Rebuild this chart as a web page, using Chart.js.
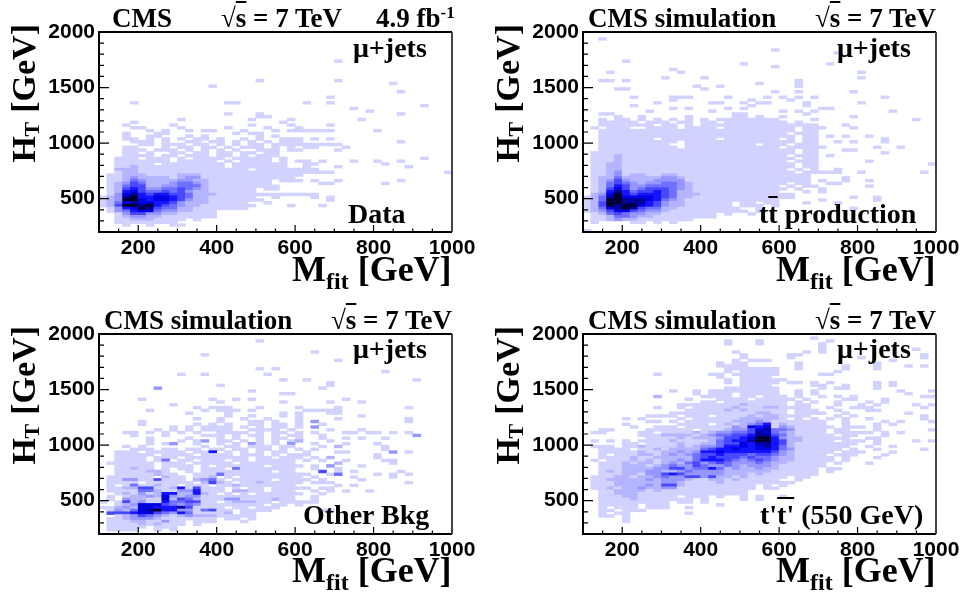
<!DOCTYPE html>
<html>
<head>
<meta charset="utf-8">
<script src="https://cdn.jsdelivr.net/npm/chart.js@4"></script>
<style>
body { margin: 0; background: #fff; width: 963px; height: 595px; overflow: hidden; position: relative; }
canvas { position: absolute; }
.t { position: absolute; font-family: "Liberation Serif", serif; font-weight: bold; color: #000; white-space: nowrap; line-height: 1; }
.head { font-size: 27px; }
.tag { font-size: 28px; }
.axt { font-size: 36px; }
.axt sub { font-size: 24px; vertical-align: -8px; line-height: 0; }
.yt { font-size: 34px; writing-mode: vertical-rl; transform: rotate(180deg); }
.yt sub { font-size: 22px; vertical-align: baseline; position: relative; left: -8px; }
.ov { text-decoration: overline; text-decoration-thickness: 2px; }
sup { font-size: 17px; line-height: 0; vertical-align: 9px; }
</style>
</head>
<body>
<canvas id="dataChart" width="481" height="297" style="left:0;top:0"></canvas>
<canvas id="ttbarChart" width="481" height="297" style="left:484px;top:0"></canvas>
<canvas id="otherChart" width="481" height="297" style="left:0;top:302px"></canvas>
<canvas id="signalChart" width="481" height="297" style="left:484px;top:302px"></canvas>

<div class="t head" style="left:112px;top:5px">CMS</div>
<div class="t head" style="left:221px;top:5px">√<span class="ov">s</span> = 7 TeV</div>
<div class="t head" style="left:376px;top:5px">4.9 fb<sup>-1</sup></div>
<div class="t head" style="left:588px;top:5px">CMS simulation</div>
<div class="t head" style="left:815px;top:5px">√<span class="ov">s</span> = 7 TeV</div>
<div class="t head" style="left:104px;top:307px">CMS simulation</div>
<div class="t head" style="left:331px;top:307px">√<span class="ov">s</span> = 7 TeV</div>
<div class="t head" style="left:588px;top:307px">CMS simulation</div>
<div class="t head" style="left:815px;top:307px">√<span class="ov">s</span> = 7 TeV</div>

<div class="t tag" style="left:353px;top:34px">μ+jets</div>
<div class="t tag" style="left:837px;top:34px">μ+jets</div>
<div class="t tag" style="left:353px;top:335px">μ+jets</div>
<div class="t tag" style="left:837px;top:335px">μ+jets</div>
<div class="t tag" style="left:348px;top:200px">Data</div>
<div class="t tag" style="left:759px;top:200px">t<span class="ov">t</span> production</div>
<div class="t tag" style="left:303px;top:501px">Other Bkg</div>
<div class="t tag" style="left:760px;top:501px">t'<span class="ov">t'</span> (550 GeV)</div>

<div class="t axt" style="left:292px;top:251px">M<sub>fit</sub> [GeV]</div>
<div class="t axt" style="left:776px;top:251px">M<sub>fit</sub> [GeV]</div>
<div class="t axt" style="left:292px;top:552px">M<sub>fit</sub> [GeV]</div>
<div class="t axt" style="left:776px;top:552px">M<sub>fit</sub> [GeV]</div>
<div class="t axt yt" style="left:7px;top:24px">H<sub>T</sub> [GeV]</div>
<div class="t axt yt" style="left:491px;top:24px">H<sub>T</sub> [GeV]</div>
<div class="t axt yt" style="left:7px;top:326px">H<sub>T</sub> [GeV]</div>
<div class="t axt yt" style="left:491px;top:326px">H<sub>T</sub> [GeV]</div>

<script>
// histogram binning
const xStart = 100, xEnd = 1000, xBin = 20;
const yStart = 200, yEnd = 2000, yBin = 25;
const xTickLabels = [200, 400, 600, 800, 1000];
const yTickLabels = [500, 1000, 1500, 2000];

// bin contents per HT row, top row first, one char per Mfit bin (. = empty, 1-9 = colour level)
const dataRows = [
"","","","","","","","","","",
"..... ..... ..... ..... ..... ..... 1",
"","","","","","",
"..... ..... ..... ..... 1.... ..... 1",
"..... ..... ..... ..... ..... ..... ..... ..1",
"..... ..... ....1",
"",
"..... ..... ..... ..... ..... ..... ..... ...1",
"",
"..... ..... ..... ..... ..... ....1",
"",
"....1 ..... ..... .11.. ..... .1..1",
"..... ..... ..... ..... ..... ..... ..... ..... .1",
"..... ..... ..... ..... ..... ..... ..1",
"..... ..... ..... ..... ..... ..... ....1",
"..... ..... ..... .1... 1.... ..... ..... ...1",
"..... ..... ..... ..... 11",
"..... ..... 1.... ....1 ....1 ..... ...1",
"....1 ..... ..... ..... ...1",
"...1. ....1 ..... ....1 ....1 ....1",
"....1 1.... 1.... .1... .1... 1",
"..... .1.1. .1.11 ...1. ..1.1 11111 ..... 1",
"...1. ..11. ..... ..1.1 1",
"...1. .11.. .1.1. ..... 1.1",
"...11 .1.1. 1.11. 1..1. 1..11 1.1.1",
"....1 11.1. .11.1 1.1.1 .1.11 1.... ..... ...1",
"..... 11.11 1.11. 1.1.1 1.111 11111 1",
"...11 ...1. 11.11 .1.11 1.1.1 .11.. .1",
"...11 1.111 .1.1. 1.1.. 111.1 1.... 1",
"...11 .1..1 1.11. 11.11 .11",
"...11 11.11 .111. 11.1. 111",
"..111 .111. 1.111 1.111 11.1. ..... ..... ..... .1",
"..111 1111. 11111 .1.11 11.1. 11.1. ..1.. 1..1.",
"..111 11.11 11111 1.111 1111. .11.. ..... .1",
"..112 11111 11111 1.111 1111. .1... 1.... ....1",
"..222 11111 11111 1111. 11111 111",
"..122 11111 11111 11111 11111 11111 ..... ..... ....1",
".1122 21111 22211 11111 11111 1",
".1123 22221 23311 11111 11111",
".1124 32222 33221 11111 11.11 1.1.. 1.... ...1.",
".1235 42223 44321 11111 11... ...11 ..... .1",
".1245 52233 44421 11111 111",
".1256 53344 54321 11111 .11",
".1267 54454 53221 11111",
".1378 65665 54222 11111 11111 111",
"12389 66776 54221 11111 ..1.. ..1.1",
"12399 76776 53221 11111 1.... ....1",
"12478 77665 32221 1111. .1",
"12599 89654 32211 11111 ....1 ...1",
".1367 98544 22111 1111",
".1346 77433 22111",
"..135 53322 11111",
"..123 32211 11111",
"..112 22111 1.1",
"..111 11111",
"...1. .1..1 1",
"",""
];

const ttbarRows = [
"","",
"..1",
"","","",
"..... ..... ..... ..... ....1",
"..... ..... ..... ..... ..... ..... ..1",
"","",
"..... 1",
"..... ..... ..... ..... 1.... ..... .1",
"..... ..... ..... ..... ....1",
"..... ..... .1",
"...1. ..... ..1.. ..... ..... ..... ..... 1",
"",
"..... ..... 1.... 1.... ..... ..... ..... 1",
"..11. 1.... ..... ..... ..... ..1",
"..... ..... ..... ..... ..1.. ..1",
"..... ..... ....1 ..1.. ..... ..1",
"....1 1.... ..... 1",
"..... ..... ..... ..... ....1 ..1.. ....1",
"",
"..... .1... .111. ...1. ...1. 1.1.1 ..... ...1.",
"..... ..... .1... ..... .1... .1",
"..... ....1 ..... .11.. 1.11. ...1. ..... 1",
"..... .1... ..... ..... .1... ...1",
"..... ..... .1.1. ...1. 1.... ..... 11",
"..... ...1. ..... .1... ..... 1.1.1 ..... ....1",
"..11. ..... ..... ....1 1.... ...1",
"....1 ..1.. ...1. ....1 1.1.. 1.... ....1",
"..1.1 1.1.1 .1.1. 1.111 11111 ....1 ..... ..... ..1",
"..111 11.11 1.11. 11.11 11111 1.1",
"..111 1111. 11.1. 11111 11111 11111 ...1",
".1.11 1..11 11.11 11.11 11111 11.11 1...1",
"..111 11111 11111 11111 11111 11.11",
"..111 11111 11111 11111 11111 1.111",
"..111 11111 11111 11111 11111 11.11 .1.1. .1",
"..111 1111. 11111 11.11 11111 .1.11 ..... ...1",
"..111 11111 11.11 11111 11111 11.11 ..1.1 ...1",
"..111 11111 1..11 11111 11.11 1.111",
"..111 11111 11.11 11111 11111 .1111 1.... ..1.. 1",
"..111 11111 11111 11111 11111 11.11 ...11",
".1111 11111 11111 11111 11111 11.11 ..... ...1",
".1112 11111 11111 11111 11111 1.111 .1",
".1112 11111 11111 11111 11111 11.11",
".1112 11111 11111 11111 11111 1.111 ..... .1",
".1122 11111 11111 11111 11111 11.11 ..... ..... ....1",
".1122 11111 11111 11111 11111 11.11",
".1122 11111 11111 11111 11111 1.1.1 ..1",
".1123 11111 11111 11111 11111 11.11 111.. 1.... ...1",
".1123 12211 22111 11111 11111 1111",
".1224 22222 33211 11111 11111 1111. ...1",
".1235 32223 33311 11111 11111 1111. 1..1. .1",
".1245 43233 44321 11111 11111 1.11. .11",
".1246 53344 44321 11111 11111 .1.11 ..... .1",
".1257 53455 54321 11111 11111 1.1.. 1",
".1268 64556 54221 11111 11111 ...1. 1",
".2379 65666 54222 11111 11111 11",
"12489 77776 54221 11111 11111 11... ....1 ..1",
"12499 88876 43211 11111 11111 ..... 1.... ..1",
"12599 88865 32211 1111. 11.11 ...1. ..1",
"12598 99765 32211 1111. 111.1",
"12478 98544 22111 11111 ..1.. ..... ....1",
"12357 75433 21111 11111 1.1",
".1245 43322 11111 11.1. .1",
".1124 43221 11111 11",
".1123 22111 1111",
".1... .11.1 .1",
"",
"",
"1"
];

const otherRows = [
"","",
"..... ..... ..... ..... 1",
"","","",
"..... ..... ..... ..... ..... ..1",
"..... ..... ...1",
"",
"..... ..... ..... ..... ..... ..... 1",
"","",
"..... ..... ..... ..... 1.1",
"..... ..... ..... ..... ..... ..... ..... .1",
"..... ..... 1..1. ..... .1",
"",
"..... ..... ..... ..... ...1. .1... ..... ..... 1",
"..... ..... ..... ..... ..... ....1",
"..... ..... ..... 1.... ..... ....1",
"..... ..3.. ..... ..... ..... ...1",
"..... ..... ..... ....1",
"..... ..... ..... ..... ...11",
"",
"..... 1.... ....1 ..1.1 ..... ..... .1",
"..... ..... ..... 1.... ...1. ....1 ...1",
"..... ....1",
"..... ..... ..1.1 11... 1.... 1.... 1.... ....1",
"..... .1... ...1. 111.1 ..... .1111 1",
"..... ..... .1... .1... ...1. 1...1 1",
"..... ..... ..... .1..1 ...1. 1.... ...1",
"..... ..... ..1.. 1..1. .1... 1.... 1.... ....1",
"..... 1.... ..... 1...1 1.1.. 1.3.. ..... ....1",
"..... 1.... ..1.1 .1..1 1.11. 1..1.",
"..... ....1 .1.11 11.1. 1.11. 1.3..",
"..... ..1.1 .1.11 11..1 111.1 ....1 ...1",
"...11 .1.1. 1.1.. 1111. 1.11. 1.1.. .11.1 1.1.1",
"....1 ...1. ...11 1.1.1 1.1.1 1..1. ..... ..... 3",
"..... .1... .1... 1.1.. 1.11. 1..1. .1.1. .1",
"..... .1... 1.13. 11.1. 1.1.1 2...1",
"..... .1.13 ..1.. 1.1.3 1.1.3 ..1.. .1... 1",
"...1. 1.... ...1. .11.1 11.11 ...1. 2.... .1",
"....1 11.11 .11.1 1.11. 11.1. 1.1.. ..... .1",
"..111 .1111 1.116 .1.1. 1.11. .1... 11... ..3.1",
"..111 11.11 11.11 11.11 1.1.1 11... ..... 1",
"..111 1.111 .1111 1111. 11.11 1.1.2 ..... 1",
"..111 1.14. 11.11 1.11. 11111 .1.1. .1... .11",
".1111 11.11 1.111 11.11 11111 ..... 2.... ..1",
"..111 11.11 11.1. 11111 1.111 1.1.3 ...1",
"..112 11.1. 11.11 1.411 11111 ..1.. 1",
"..111 1221. .1.11 11111 11.11 ...5. 1.1.. ...1.",
"..111 11211 ..111 41111 11111 11..1 4.... 1.1.1",
".1111 11.21 1.112 .1.11 11111 1.1.. ..1.. ..1",
".1133 11511 1.234 1.111 11.11 11.1. ...1.",
".1111 .1111 11.25 21.11 21111 1.111 ..... ....1",
".1.14 11211 .111. 11211 11111 ..... 1.1..",
".1122 55112 61511 1.1.1 1.111 11.11",
".1111 44211 33611 1.221 1.111 ..1.1 .1..1",
"..121 31266 22621 .1.1. 11111 1..1",
".1.12 23273 23311 11111 11111 ..1",
".1.32 21172 54211 13311 11211 ..1",
"1.152 31164 45511 .1222 11.11 111",
"..123 77754 34311 11111 1.11. 1",
"11232 77666 85111 1.11. 111",
".1324 78966 33145 11.11 11... ...11",
".5556 77543 64111 12.11",
"..123 54321 23222 11111",
".1123 33211 11111 .11.1",
".1112 21131 1.111 ...1",
".1111 21211 1.1",
".1111 1.111",
".1111 ..1.1",
""
];

const signalRows = [
"",
"..... ..... ..... ..... ..... ....1",
"..... ..... ..... ...1. ..1.. ..... .1",
"..... ..... ..... ...1. ..1.. ..... 1",
"..... ..... ..... ..... ..... ..... 1",
"..... ..... ..... ..... ..... ..... 1.... ..... ..1",
"..... ..... ..... ....1 ..... ...1. 1",
"..... ..... ..... ..... 1.... .11.. ..... ..... ...1",
"..... ..... ..... ..... 1.... .1... ..... 1.... ...1",
"..... ..... ..... ....1 .111. ..... ..... ....1",
"..... ..... ..... ..1.1 1.... ..1.. ..... ..1..",
"..... ..... ..... ..111 1.... ..1.. ...1. ..1.. .1.1",
"..... ..... ..... ...11 11111 ..1.. ...1. ..1",
"..... ..... ..... ...1. 11111 ..... ..1",
"..... ....1 ..... .11.1 11111 ..... 11",
"..... ..... ..... ..1.. 1111",
"..... ..... ..... ...1. 11111 1",
"..... ..... ..... ...1. 11111 .11.1 .1... ..1.1",
"..... ..... ..... ..... 1111. ....1 1..1. ..1.1",
"..... ..... ..... ...11 11111 ..... 1.11. ..1",
"..... ..... .1..1 .1111 11111 ..1.1 ..... ..... 1...1",
"..... ..... ....1 .111. 11111 ..1.1 ..... ..... .1",
"..... ....2 ..... 1111. 11.11 1.1.. 1.1.1 ..... ...11",
"..... ..... ...1. ..111 1.111 11.1. ...11 ...1",
"..... ..... ..... 11.11 11111 1.1.1 ..1.. .1.1",
"..... ..... ..111 11111 21111 1.11. ..1.. 1.1.. ..1.1",
"..... ....1 ..1.1 11112 11122 1111. .1..1 11... ...1.",
"..... ..... ...11 11121 21111 1.111 ..1.. .11",
"..... ..... .1111 11111 11221 1.111 1..1. ..... .1",
"..... ...11 11.11 1.111 12122 1111. ..1.1 ..... ...1",
"..... 1.1.. ..1.1 11111 22222 1.1.1 .1.1. .1... ...1",
"..... ...11 .1.11 11112 22321 11111 1..1. ...1. 1...1",
"..... 1.... ..111 1.121 23461 21111 1..1. ..1.1",
"..... .1..1 11.11 11113 27671 32111 11.11 1.1..",
"..11. ...11 1111. 11123 35784 43111 1.11. ..1.. ....1",
".11.. ..11. 11112 12334 45874 32111 1.111 11.1. 1.... 1",
"..... ..111 22221 23445 56885 42111 11.11 ...1.",
"..... ...11 11212 22355 67996 32211 1111. .11..",
".1.1. 1.111 12111 12456 68996 52211 11.11 1.1.. ..1.1",
"..... 11.11 11211 22455 76886 52111 11111 ..1..",
".111. 11211 11212 33466 76786 42111 1111. .1..1",
"..111 1.112 12222 45667 66776 43111 111.1 ..1.. ...1",
"..111 11211 22323 66766 66665 32111 11.11 1...1",
"..1.1 11221 23234 55655 54554 32111 1.111 ...1",
"..111 12112 22224 56555 45443 22111 11.1. ..1",
".1.11 12121 22324 66654 34543 22111 11.1",
"..111 21221 23245 34543 33432 21111 1.1.. .1",
"..111 22212 34335 43343 23332 11111 1",
"..111 22223 35534 46423 22322 11111 .11",
"..121 22233 22343 33322 22221 11111 .1",
"..111 22133 56533 33322 21211 11111",
".1112 21223 43355 35221 21111 1.11.",
".1122 22232 33321 12212 11111 ..1",
".1112 22222 33211 11211 11111 11",
".1112 22232 55211 11111 11.1. 1",
".1121 22322 33111 11111 11.11",
"..112 22212 11111 11111 1",
"..112 22111 11111 11111 1",
"..111 22111 11.11 1.1.. 1.1.. 1",
"..111 12111 1111. 1.... 1.1",
"..111 11111 1.11. 1",
"..111 11.11 1.... ..1",
"..1.1 11.11 1..1",
"..11. 111",
"..1.1 1.... ...1",
"..11. 1",
"..... 1",
"..... 1",
"","","",""
];

const levelColors = ['#d2d2ff', '#b4b4ff', '#9696ff', '#7070ff', '#4848ff', '#1414ff', '#0000e0', '#00009a', '#000030'];

function toBars(rows) {
    const bars = [];
    rows.forEach((row, r) => {
        [...row.replace(/ /g, '')].forEach((ch, c) => {
            if (ch !== '.') {
                const top = yEnd - r * yBin;
                bars.push({ x: xStart + (c + 0.5) * xBin, y: [top - yBin, top], level: +ch });
            }
        });
    });
    return bars;
}

// frame and inward ticks, ROOT style
const frameTicks = {
    id: 'frameTicks',
    afterDraw(chart) {
        const { ctx, chartArea: a, scales: { x, y } } = chart;
        ctx.save();
        ctx.strokeStyle = '#000';
        ctx.lineWidth = 1.2;
        ctx.beginPath();
        for (let v = 150; v < xEnd; v += 50) {
            const px = x.getPixelForValue(v);
            ctx.moveTo(px, a.bottom);
            ctx.lineTo(px, a.bottom - (v % 200 === 0 ? 7 : 3.5));
        }
        for (let v = 300; v < yEnd; v += 100) {
            const py = y.getPixelForValue(v);
            ctx.moveTo(a.left, py);
            ctx.lineTo(a.left + (v % 500 === 0 ? 10 : 5), py);
        }
        ctx.stroke();
        ctx.lineWidth = 2;
        ctx.beginPath();
        ctx.moveTo(a.right, a.top);
        ctx.lineTo(a.left, a.top);
        ctx.lineTo(a.left, a.bottom);
        ctx.lineTo(a.right, a.bottom);
        ctx.stroke();
        ctx.strokeStyle = '#444';
        ctx.beginPath();
        ctx.moveTo(a.right, a.top);
        ctx.lineTo(a.right, a.bottom);
        ctx.stroke();
        ctx.restore();
    }
};

function makePanel(canvasId, rows) {
    const bars = toBars(rows);
    const tickFont = { family: '"Liberation Sans"', weight: 'bold', size: 21 };
    return new Chart(document.getElementById(canvasId), {
        type: 'bar',
        data: {
            datasets: [{
                data: bars,
                backgroundColor: bars.map(b => levelColors[b.level - 1]),
                barThickness: 7.85,
                borderSkipped: false,
                grouped: false
            }]
        },
        options: {
            responsive: false,
            animation: false,
            devicePixelRatio: 1,
            layout: { padding: { top: 32, right: 29 } },
            plugins: { legend: { display: false }, tooltip: { enabled: false } },
            scales: {
                x: {
                    type: 'linear',
                    offset: false,
                    min: xStart,
                    max: xEnd,
                    grid: { display: false, drawTicks: false },
                    border: { display: false },
                    afterBuildTicks: s => { s.ticks = xTickLabels.map(value => ({ value })); },
                    afterFit: s => { s.height = 65; },
                    ticks: { color: '#000', font: tickFont, maxRotation: 0, autoSkip: false, padding: 4, callback: v => String(v) }
                },
                y: {
                    min: yStart,
                    max: yEnd,
                    grid: { display: false, drawTicks: false },
                    border: { display: false },
                    afterBuildTicks: s => { s.ticks = yTickLabels.map(value => ({ value })); },
                    afterFit: s => { s.width = 99; },
                    ticks: { color: '#000', font: tickFont, autoSkip: false, padding: 4, callback: v => String(v) }
                }
            }
        },
        plugins: [frameTicks]
    });
}

makePanel('dataChart', dataRows);
makePanel('ttbarChart', ttbarRows);
makePanel('otherChart', otherRows);
makePanel('signalChart', signalRows);
</script>
</body>
</html>
